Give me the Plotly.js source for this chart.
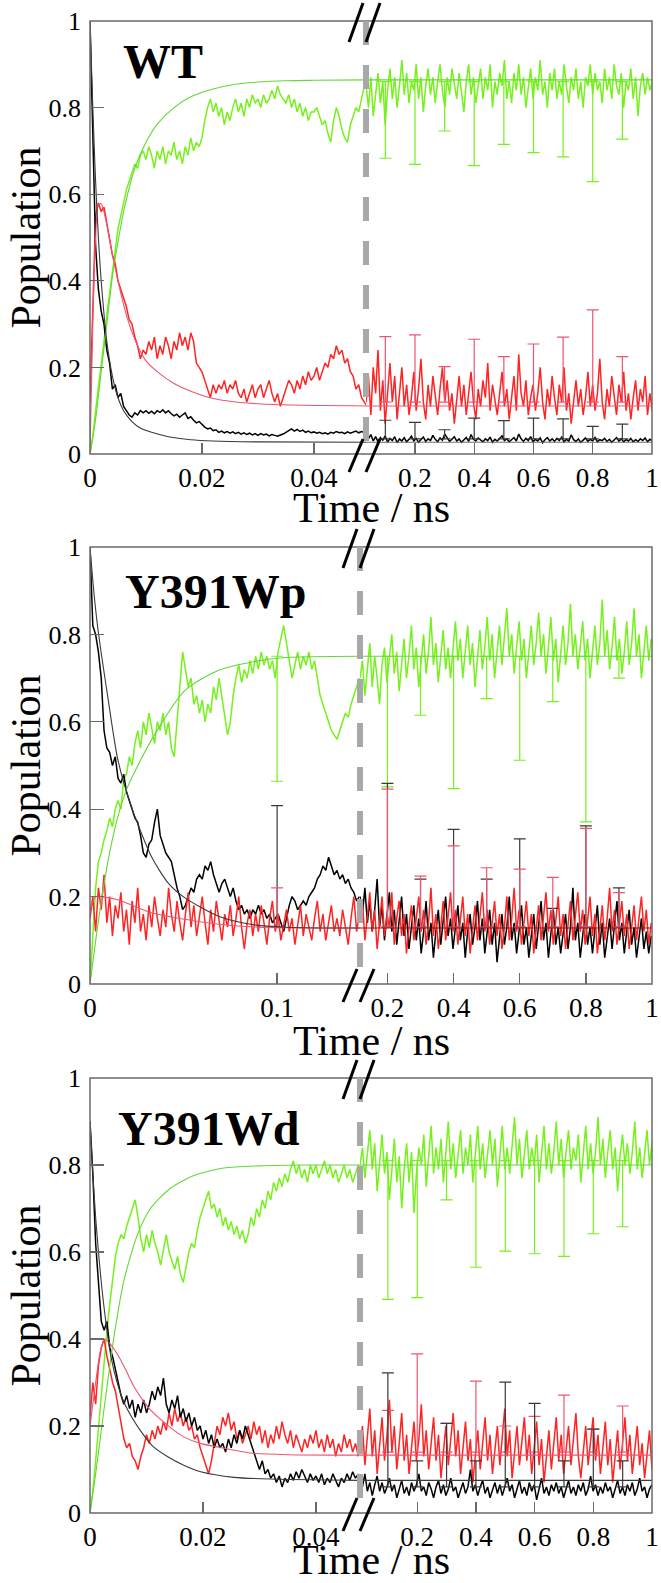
<!DOCTYPE html>
<html><head><meta charset="utf-8">
<script src="https://cdn.plot.ly/plotly-3.0.1.min.js"></script>
<style>html,body{margin:0;padding:0;background:#fff}#chart{width:661px;height:1583px}
#chart svg text{font-family:'Liberation Serif',serif !important;}</style>
</head><body><div id="chart"></div>
<script>
// ================= DATA =================
const panelLabels = ['WT', 'Y391Wp', 'Y391Wd'];
const yTickVals = [0, 0.2, 0.4, 0.6, 0.8, 1];
const yTickText = ['0', '0.2', '0.4', '0.6', '0.8', '1'];
const shortLeftTicks = [0, 0.02, 0.04];
const shortLeftText = ['0', '0.02', '0.04'];
const wpLeftTicks = [0, 0.1];
const wpLeftText = ['0', '0.1'];
const rightTicks = [0.2, 0.4, 0.6, 0.8, 1];
const rightText = ['0.2', '0.4', '0.6', '0.8', '1'];

// axis ranges (ns) of the two segments of each panel
const wtLeftRange = [0, 0.0493], wtRightRange = [0.0347, 1];
const wpLeftRange = [0, 0.1443], wpRightRange = [0.117, 1];
const wdLeftRange = [0, 0.0478], wdRightRange = [0.005, 1];

// sampling of the trajectories (start, step in ns)
const wtLeftT0 = 0, wtLeftDt = 0.0005, wtRightT0 = 0.035, wtRightDt = 0.00805;
const wpLeftT0 = 0, wpLeftDt = 0.0015, wpRightT0 = 0.117, wpRightDt = 0.0074;
const wdLeftT0 = 0, wdLeftDt = 0.0005, wdRightT0 = 0.005, wdRightDt = 0.00836;

// ---- WT ----
const wtBlackLeft = [1.0,0.72,0.48,0.38,0.33,0.3,0.24,0.21,0.15,0.16,
 0.13,0.14,0.11,0.1,0.09,0.085,0.095,0.09,0.1,0.095,
 0.1,0.094,0.099,0.093,0.1,0.096,0.102,0.095,0.1,0.093,
 0.088,0.092,0.085,0.09,0.095,0.082,0.086,0.078,0.072,0.075,
 0.068,0.062,0.058,0.06,0.054,0.056,0.05,0.053,0.049,0.052,
 0.048,0.051,0.047,0.05,0.046,0.049,0.045,0.048,0.044,0.047,
 0.043,0.047,0.044,0.046,0.042,0.045,0.043,0.041,0.044,0.046,
 0.05,0.055,0.058,0.053,0.057,0.052,0.055,0.05,0.053,0.049,
 0.051,0.048,0.05,0.047,0.049,0.046,0.05,0.048,0.052,0.049,
 0.05,0.047,0.051,0.048,0.05,0.053,0.049,0.052,0.05,0.054];
const wtRedLeft = [0.12,0.35,0.55,0.58,0.56,0.57,0.53,0.5,0.46,0.44,
 0.4,0.38,0.36,0.34,0.31,0.3,0.27,0.25,0.22,0.24,
 0.23,0.26,0.24,0.27,0.22,0.25,0.23,0.27,0.25,0.22,
 0.26,0.24,0.28,0.25,0.27,0.24,0.28,0.26,0.21,0.2,
 0.19,0.17,0.15,0.13,0.16,0.14,0.16,0.15,0.17,0.14,
 0.16,0.15,0.17,0.14,0.13,0.15,0.12,0.14,0.16,0.13,
 0.15,0.16,0.13,0.15,0.17,0.14,0.12,0.14,0.11,0.13,
 0.15,0.17,0.16,0.14,0.17,0.15,0.18,0.16,0.19,0.17,
 0.18,0.2,0.17,0.19,0.21,0.2,0.23,0.22,0.25,0.23,
 0.24,0.21,0.22,0.19,0.18,0.15,0.16,0.13,0.12,0.11];
const wtGreenLeft = [0,0.04,0.1,0.15,0.2,0.26,0.32,0.37,0.42,0.47,
 0.52,0.55,0.58,0.61,0.63,0.65,0.67,0.66,0.69,0.7,
 0.68,0.71,0.69,0.66,0.7,0.68,0.71,0.67,0.7,0.69,
 0.72,0.68,0.7,0.67,0.71,0.69,0.73,0.7,0.72,0.71,
 0.73,0.77,0.8,0.82,0.79,0.81,0.78,0.8,0.76,0.79,
 0.77,0.8,0.82,0.79,0.81,0.78,0.82,0.8,0.83,0.81,
 0.82,0.8,0.83,0.81,0.82,0.84,0.82,0.85,0.83,0.82,
 0.81,0.83,0.8,0.82,0.79,0.81,0.78,0.8,0.77,0.79,
 0.79,0.8,0.78,0.76,0.77,0.74,0.72,0.77,0.8,0.78,
 0.75,0.73,0.72,0.76,0.78,0.8,0.79,0.82,0.85,0.86];
const wtGreenRight = [0.85,0.8,0.87,0.78,0.83,0.88,0.81,0.86,0.76,0.84,
 0.89,0.82,0.87,0.8,0.85,0.91,0.83,0.88,0.81,0.86,
 0.84,0.9,0.82,0.87,0.79,0.85,0.89,0.83,0.87,0.81,
 0.86,0.9,0.84,0.8,0.87,0.83,0.89,0.85,0.82,0.88,
 0.84,0.79,0.86,0.9,0.83,0.87,0.81,0.85,0.89,0.82,
 0.87,0.84,0.9,0.8,0.86,0.83,0.88,0.85,0.91,0.82,
 0.86,0.81,0.88,0.84,0.9,0.83,0.87,0.8,0.85,0.89,
 0.82,0.87,0.84,0.91,0.83,0.86,0.8,0.88,0.84,0.89,
 0.82,0.86,0.83,0.9,0.85,0.81,0.87,0.84,0.89,0.82,
 0.86,0.8,0.87,0.85,0.9,0.83,0.88,0.84,0.86,0.81,
 0.89,0.84,0.87,0.82,0.9,0.85,0.83,0.88,0.8,0.86,
 0.84,0.89,0.82,0.87,0.78,0.85,0.88,0.83,0.87,0.84,0.86];
const wtRedRight = [0.12,0.18,0.09,0.2,0.14,0.24,0.1,0.17,0.07,0.15,
 0.21,0.12,0.18,0.08,0.14,0.2,0.11,0.16,0.09,0.13,
 0.19,0.1,0.15,0.22,0.12,0.08,0.16,0.11,0.18,0.13,
 0.09,0.15,0.2,0.12,0.17,0.1,0.14,0.07,0.12,0.18,
 0.11,0.16,0.09,0.14,0.19,0.12,0.08,0.15,0.11,0.17,
 0.13,0.21,0.1,0.16,0.12,0.09,0.14,0.19,0.11,0.15,
 0.08,0.13,0.18,0.1,0.23,0.14,0.11,0.17,0.09,0.13,
 0.16,0.1,0.14,0.2,0.12,0.08,0.15,0.11,0.18,0.13,
 0.09,0.16,0.12,0.2,0.1,0.14,0.07,0.12,0.17,0.11,
 0.15,0.09,0.13,0.19,0.11,0.16,0.1,0.14,0.22,0.12,
 0.08,0.15,0.11,0.18,0.13,0.09,0.16,0.12,0.19,0.1,
 0.14,0.08,0.13,0.17,0.1,0.15,0.12,0.18,0.09,0.14,0.1];
const wtBlackRight = [0.05,0.035,0.045,0.03,0.04,0.028,0.038,0.032,0.042,0.027,
 0.036,0.031,0.04,0.026,0.035,0.03,0.038,0.028,0.034,0.041,
 0.03,0.036,0.027,0.033,0.039,0.029,0.035,0.031,0.043,0.034,
 0.028,0.037,0.032,0.046,0.036,0.029,0.034,0.04,0.03,0.035,
 0.027,0.033,0.038,0.029,0.045,0.034,0.03,0.037,0.032,0.028,
 0.035,0.031,0.039,0.027,0.034,0.03,0.036,0.042,0.031,0.035,
 0.028,0.033,0.038,0.03,0.046,0.035,0.029,0.036,0.031,0.04,
 0.028,0.034,0.03,0.037,0.026,0.033,0.038,0.03,0.035,0.029,
 0.036,0.031,0.039,0.028,0.034,0.03,0.044,0.033,0.029,0.035,
 0.027,0.032,0.037,0.029,0.034,0.03,0.038,0.028,0.033,0.031,
 0.036,0.029,0.034,0.027,0.032,0.038,0.03,0.035,0.028,0.033,
 0.03,0.036,0.028,0.033,0.029,0.035,0.031,0.037,0.028,0.034,0.03];
const wtGreenFitT = [0,0.001,0.002,0.003,0.004,0.005,0.006,0.008,0.01,0.012,0.015,0.018,0.022,0.026,0.03,0.035,0.04,0.0495];
const wtGreenFit  = [0,0.08,0.19,0.3,0.41,0.49,0.56,0.66,0.72,0.762,0.8,0.825,0.843,0.854,0.859,0.862,0.863,0.864];
const wtRedFitT = [0,0.0005,0.001,0.0015,0.002,0.003,0.004,0.005,0.006,0.007,0.0085,0.01,0.0125,0.015,0.018,0.022,0.026,0.03,0.036,0.0495];
const wtRedFit  = [0,0.3,0.5,0.575,0.578,0.53,0.46,0.4,0.345,0.3,0.25,0.215,0.185,0.163,0.145,0.128,0.12,0.116,0.113,0.111];
const wtBlackFitT = [0,0.0005,0.001,0.0015,0.002,0.003,0.004,0.005,0.006,0.0075,0.009,0.011,0.014,0.018,0.022,0.03,0.0495];
const wtBlackFit  = [1.0,0.8,0.63,0.5,0.4,0.26,0.18,0.13,0.1,0.075,0.06,0.05,0.04,0.033,0.03,0.028,0.027];
const wtPlateau = {green: 0.864, red: 0.111, black: 0.027};
const wtErrX = [0.1,0.2,0.3,0.4,0.5,0.6,0.7,0.8,0.9];
const wtGreenErrLow  = [0.683,0.669,0.746,0.666,0.715,0.696,0.686,0.629,0.727];
const wtRedErrHigh   = [0.271,0.275,0.202,0.265,0.225,0.254,0.27,0.333,0.225];
const wtBlackErrHigh = [0.078,0.073,0.056,0.083,0.077,0.083,0.081,0.064,0.069];
const wtErrBase = {green: 0.86, red: 0.12, black: 0.035};

// ---- Y391Wp ----
const wpBlackLeft = [1.0,0.82,0.8,0.76,0.7,0.58,0.54,0.53,0.5,0.52,
 0.47,0.46,0.48,0.44,0.42,0.4,0.38,0.37,0.34,0.3,
 0.29,0.32,0.33,0.37,0.4,0.34,0.32,0.3,0.29,0.28,
 0.25,0.22,0.2,0.17,0.18,0.2,0.22,0.21,0.24,0.25,
 0.24,0.27,0.26,0.28,0.25,0.23,0.21,0.23,0.24,0.22,
 0.2,0.22,0.19,0.17,0.18,0.16,0.17,0.15,0.17,0.16,
 0.18,0.16,0.17,0.15,0.16,0.14,0.15,0.16,0.14,0.12,
 0.15,0.18,0.2,0.19,0.17,0.18,0.19,0.18,0.2,0.21,
 0.22,0.24,0.25,0.27,0.26,0.29,0.27,0.25,0.26,0.24,
 0.25,0.23,0.24,0.22,0.21,0.19,0.2];
const wpGreenLeft = [0,0.12,0.22,0.28,0.3,0.33,0.35,0.38,0.36,0.4,
 0.42,0.4,0.47,0.48,0.52,0.5,0.55,0.58,0.54,0.6,
 0.57,0.62,0.58,0.55,0.6,0.58,0.62,0.57,0.6,0.54,
 0.52,0.6,0.68,0.76,0.72,0.68,0.7,0.64,0.66,0.62,
 0.65,0.6,0.64,0.62,0.68,0.65,0.7,0.66,0.62,0.57,
 0.6,0.66,0.7,0.73,0.69,0.72,0.7,0.74,0.71,0.75,
 0.72,0.76,0.73,0.75,0.72,0.74,0.7,0.76,0.79,0.82,
 0.78,0.74,0.7,0.73,0.76,0.72,0.75,0.73,0.76,0.72,
 0.74,0.7,0.66,0.64,0.62,0.6,0.58,0.57,0.56,0.58,
 0.6,0.62,0.61,0.64,0.66,0.68,0.7];
const wpRedLeft = [0.15,0.2,0.12,0.22,0.17,0.25,0.14,0.2,0.11,0.18,
 0.15,0.21,0.12,0.17,0.09,0.19,0.14,0.22,0.12,0.16,
 0.1,0.18,0.13,0.2,0.15,0.11,0.17,0.13,0.22,0.16,
 0.12,0.19,0.14,0.1,0.16,0.21,0.13,0.18,0.11,0.15,
 0.2,0.14,0.09,0.17,0.12,0.19,0.15,0.1,0.16,0.13,
 0.18,0.11,0.15,0.2,0.13,0.08,0.14,0.17,0.11,0.16,
 0.12,0.18,0.14,0.09,0.15,0.19,0.12,0.16,0.1,0.14,
 0.17,0.12,0.15,0.09,0.13,0.18,0.11,0.16,0.13,0.1,
 0.15,0.19,0.12,0.16,0.1,0.14,0.18,0.12,0.15,0.11,
 0.17,0.13,0.09,0.15,0.2,0.12,0.16];
const wpGreenRight = [0.7,0.74,0.66,0.72,0.78,0.68,0.75,0.7,0.64,0.73,
 0.77,0.69,0.74,0.8,0.71,0.76,0.67,0.73,0.79,0.7,
 0.75,0.82,0.72,0.77,0.68,0.74,0.8,0.71,0.76,0.84,
 0.73,0.78,0.69,0.75,0.81,0.72,0.77,0.7,0.76,0.83,
 0.74,0.79,0.7,0.76,0.82,0.73,0.78,0.68,0.75,0.81,
 0.72,0.77,0.84,0.74,0.8,0.7,0.76,0.82,0.73,0.79,
 0.86,0.75,0.8,0.71,0.77,0.83,0.74,0.79,0.7,0.76,
 0.82,0.73,0.78,0.85,0.75,0.8,0.71,0.77,0.84,0.74,
 0.79,0.69,0.76,0.82,0.73,0.78,0.87,0.75,0.8,0.72,
 0.77,0.83,0.74,0.79,0.7,0.76,0.82,0.73,0.78,0.88,
 0.75,0.81,0.72,0.77,0.84,0.74,0.79,0.71,0.76,0.83,
 0.73,0.78,0.86,0.75,0.8,0.7,0.76,0.82,0.74,0.79];
const wpBlackRight = [0.2,0.16,0.22,0.14,0.19,0.12,0.17,0.24,0.13,0.18,
 0.1,0.15,0.21,0.12,0.17,0.09,0.14,0.2,0.11,0.16,
 0.08,0.13,0.18,0.1,0.15,0.07,0.12,0.19,0.1,0.14,
 0.06,0.12,0.17,0.09,0.14,0.2,0.11,0.15,0.08,0.13,
 0.18,0.1,0.14,0.06,0.12,0.16,0.09,0.13,0.19,0.1,
 0.15,0.07,0.12,0.17,0.09,0.14,0.05,0.11,0.16,0.09,
 0.13,0.2,0.1,0.14,0.07,0.12,0.18,0.09,0.13,0.06,
 0.11,0.16,0.08,0.13,0.19,0.1,0.14,0.06,0.12,0.17,
 0.09,0.13,0.07,0.11,0.16,0.08,0.13,0.22,0.1,0.14,
 0.06,0.11,0.16,0.09,0.13,0.07,0.12,0.18,0.09,0.14,
 0.06,0.11,0.15,0.08,0.13,0.19,0.1,0.14,0.07,0.12,
 0.17,0.09,0.13,0.06,0.11,0.15,0.08,0.12,0.07,0.11];
const wpRedRight = [0.14,0.19,0.1,0.16,0.21,0.12,0.17,0.08,0.14,0.2,
 0.11,0.16,0.13,0.21,0.09,0.15,0.19,0.11,0.16,0.07,
 0.13,0.18,0.1,0.15,0.2,0.12,0.17,0.09,0.14,0.22,
 0.11,0.16,0.08,0.13,0.19,0.1,0.15,0.21,0.12,0.17,
 0.09,0.14,0.2,0.11,0.16,0.07,0.13,0.18,0.1,0.15,
 0.21,0.12,0.17,0.09,0.14,0.19,0.11,0.16,0.08,0.13,
 0.2,0.1,0.15,0.22,0.12,0.17,0.09,0.14,0.19,0.11,
 0.16,0.07,0.13,0.18,0.1,0.15,0.21,0.12,0.17,0.09,
 0.14,0.2,0.11,0.16,0.08,0.13,0.19,0.1,0.15,0.21,
 0.12,0.17,0.09,0.14,0.2,0.11,0.16,0.07,0.13,0.18,
 0.1,0.15,0.22,0.12,0.17,0.09,0.14,0.19,0.11,0.16,
 0.08,0.13,0.18,0.1,0.15,0.2,0.12,0.17,0.09,0.14];
const wpBlackFitT = [0,0.002,0.0041,0.0095,0.0149,0.0221,0.0328,0.0418,0.0508,0.0687,0.0866,0.1045,0.1443];
const wpBlackFit  = [1.0,0.9,0.817,0.657,0.513,0.406,0.292,0.231,0.197,0.155,0.136,0.13,0.128];
const wpGreenFitT = [0,0.005,0.01,0.0149,0.02,0.0328,0.0508,0.0687,0.0866,0.1045,0.1443];
const wpGreenFit  = [0,0.16,0.29,0.383,0.45,0.558,0.672,0.718,0.737,0.747,0.75];
const wpRedFitT = [0,0.003,0.006,0.0149,0.0328,0.0508,0.07,0.09,0.1443];
const wpRedFit  = [0.17,0.2,0.2,0.193,0.163,0.148,0.136,0.13,0.128];
const wpPlateau = {green: 0.75, red: 0.128, black: 0.128};
const wpErrXLeft = [0.1];
const wpGreenErrLowLeft = [0.464], wpRedErrHighLeft = [0.22], wpBlackErrHighLeft = [0.408];
const wpErrXRight = [0.2,0.3,0.4,0.5,0.6,0.7,0.8,0.9];
const wpGreenErrLow  = [0.451,0.615,0.447,0.653,0.512,0.646,0.371,0.70];
const wpRedErrHigh   = [0.446,0.247,0.316,0.266,0.263,0.244,0.356,0.209];
const wpBlackErrHigh = [0.459,0.24,0.354,0.24,0.332,0.173,0.362,0.22];
const wpErrBase = {green: 0.75, red: 0.13, black: 0.13};

// ---- Y391Wd ----
const wdBlackLeft = [0.9,0.78,0.62,0.53,0.44,0.42,0.44,0.38,0.36,0.33,
 0.3,0.27,0.25,0.27,0.24,0.26,0.22,0.25,0.23,0.26,
 0.23,0.25,0.28,0.26,0.29,0.27,0.31,0.25,0.23,0.26,
 0.24,0.27,0.22,0.24,0.21,0.23,0.2,0.22,0.19,0.2,
 0.17,0.19,0.16,0.18,0.15,0.17,0.15,0.16,0.14,0.17,
 0.15,0.18,0.16,0.19,0.17,0.2,0.18,0.16,0.14,0.12,
 0.1,0.12,0.09,0.1,0.08,0.09,0.07,0.085,0.06,0.08,
 0.07,0.09,0.075,0.095,0.08,0.1,0.085,0.07,0.09,0.075,
 0.085,0.07,0.09,0.065,0.08,0.07,0.09,0.075,0.06,0.08,
 0.07,0.09,0.075,0.095,0.08,0.09];
const wdRedLeft = [0.22,0.3,0.25,0.34,0.38,0.4,0.36,0.33,0.3,0.28,
 0.24,0.2,0.17,0.15,0.16,0.13,0.12,0.1,0.13,0.15,
 0.18,0.16,0.19,0.17,0.2,0.18,0.21,0.19,0.23,0.2,
 0.24,0.21,0.23,0.2,0.22,0.19,0.2,0.17,0.18,0.15,
 0.13,0.11,0.09,0.12,0.16,0.2,0.18,0.22,0.2,0.23,
 0.19,0.21,0.17,0.19,0.16,0.18,0.2,0.17,0.21,0.18,
 0.2,0.16,0.19,0.15,0.18,0.16,0.2,0.17,0.21,0.18,
 0.16,0.19,0.15,0.18,0.16,0.14,0.17,0.15,0.18,0.16,
 0.19,0.15,0.17,0.14,0.18,0.15,0.17,0.13,0.16,0.14,
 0.18,0.15,0.17,0.14,0.16,0.13];
const wdGreenLeft = [0,0.05,0.12,0.2,0.28,0.35,0.42,0.48,0.54,0.59,
 0.62,0.64,0.63,0.66,0.68,0.7,0.72,0.68,0.63,0.6,
 0.64,0.61,0.65,0.62,0.6,0.57,0.61,0.64,0.6,0.58,
 0.56,0.59,0.55,0.53,0.57,0.6,0.62,0.61,0.65,0.68,
 0.7,0.72,0.74,0.7,0.71,0.68,0.7,0.66,0.68,0.65,
 0.67,0.64,0.66,0.63,0.65,0.62,0.64,0.68,0.66,0.7,
 0.68,0.72,0.7,0.74,0.72,0.76,0.74,0.77,0.75,0.78,
 0.76,0.79,0.81,0.78,0.8,0.77,0.79,0.76,0.8,0.78,
 0.8,0.77,0.79,0.81,0.78,0.8,0.77,0.79,0.76,0.78,
 0.8,0.77,0.79,0.76,0.78,0.8];
const wdGreenRight = [0.8,0.84,0.77,0.82,0.88,0.79,0.85,0.74,0.81,0.87,
 0.78,0.83,0.72,0.8,0.86,0.76,0.82,0.7,0.79,0.85,
 0.76,0.83,0.69,0.78,0.84,0.8,0.87,0.75,0.82,0.89,
 0.78,0.84,0.79,0.86,0.76,0.83,0.9,0.79,0.85,0.77,
 0.82,0.88,0.78,0.84,0.8,0.87,0.76,0.83,0.89,0.79,
 0.85,0.77,0.82,0.88,0.8,0.86,0.75,0.83,0.89,0.79,
 0.84,0.78,0.85,0.91,0.8,0.86,0.77,0.83,0.88,0.79,
 0.84,0.8,0.87,0.76,0.82,0.89,0.79,0.85,0.78,0.83,
 0.9,0.8,0.86,0.77,0.83,0.88,0.79,0.84,0.81,0.87,
 0.76,0.82,0.89,0.79,0.85,0.78,0.83,0.91,0.8,0.86,
 0.77,0.83,0.88,0.79,0.84,0.74,0.82,0.87,0.8,0.85,
 0.78,0.83,0.9,0.79,0.84,0.77,0.82,0.88,0.8,0.85];
const wdRedRight = [0.15,0.2,0.11,0.17,0.24,0.13,0.19,0.09,0.15,0.22,
 0.12,0.18,0.26,0.14,0.2,0.1,0.16,0.23,0.12,0.18,
 0.09,0.15,0.21,0.12,0.17,0.25,0.13,0.19,0.1,0.16,
 0.22,0.12,0.18,0.08,0.14,0.2,0.11,0.17,0.23,0.13,
 0.19,0.09,0.15,0.21,0.12,0.17,0.07,0.13,0.19,0.1,
 0.16,0.22,0.12,0.18,0.09,0.14,0.2,0.11,0.17,0.24,
 0.13,0.19,0.08,0.14,0.2,0.11,0.16,0.22,0.12,0.18,
 0.09,0.15,0.21,0.11,0.17,0.07,0.13,0.19,0.1,0.16,
 0.22,0.12,0.18,0.09,0.14,0.2,0.11,0.17,0.23,0.13,
 0.08,0.14,0.2,0.11,0.16,0.22,0.12,0.18,0.09,0.15,
 0.21,0.11,0.17,0.07,0.13,0.19,0.1,0.16,0.22,0.12,
 0.18,0.09,0.14,0.2,0.11,0.16,0.08,0.13,0.19,0.1];
const wdBlackRight = [0.08,0.06,0.09,0.05,0.07,0.04,0.065,0.085,0.05,0.07,
 0.045,0.06,0.08,0.05,0.065,0.035,0.055,0.075,0.045,0.06,
 0.04,0.07,0.05,0.065,0.09,0.05,0.06,0.04,0.07,0.055,
 0.035,0.06,0.075,0.045,0.065,0.04,0.055,0.08,0.05,0.06,
 0.035,0.055,0.07,0.045,0.06,0.1,0.05,0.065,0.04,0.06,
 0.075,0.045,0.06,0.035,0.055,0.07,0.045,0.065,0.04,0.06,
 0.08,0.05,0.065,0.035,0.055,0.075,0.045,0.06,0.04,0.07,
 0.05,0.065,0.03,0.055,0.08,0.045,0.06,0.04,0.065,0.05,
 0.07,0.045,0.06,0.035,0.055,0.075,0.045,0.06,0.04,0.065,
 0.05,0.07,0.04,0.055,0.085,0.05,0.065,0.04,0.06,0.045,
 0.07,0.05,0.06,0.035,0.055,0.075,0.045,0.06,0.04,0.065,
 0.05,0.07,0.04,0.055,0.08,0.05,0.06,0.035,0.055,0.065];
const wdGreenFitT = [0,0.001,0.002,0.003,0.0043,0.006,0.0084,0.0107,0.0143,0.0184,0.0237,0.03,0.038,0.0478];
const wdGreenFit  = [0,0.09,0.19,0.29,0.41,0.534,0.64,0.7,0.747,0.776,0.793,0.798,0.8,0.8];
const wdRedFitT = [0,0.001,0.0018,0.0026,0.0035,0.0048,0.0063,0.0078,0.0093,0.0107,0.0137,0.0166,0.0195,0.0225,0.0284,0.035,0.0478];
const wdRedFit  = [0.2,0.3,0.37,0.4,0.39,0.366,0.33,0.29,0.26,0.237,0.202,0.175,0.16,0.152,0.138,0.134,0.133];
const wdBlackFitT = [0,0.0005,0.001,0.0015,0.002,0.0028,0.0037,0.0048,0.006,0.0074,0.0089,0.011,0.0137,0.0166,0.0196,0.0255,0.032,0.0478];
const wdBlackFit  = [0.9,0.78,0.68,0.6,0.53,0.44,0.36,0.3,0.255,0.22,0.19,0.155,0.13,0.11,0.095,0.082,0.078,0.075];
const wdPlateau = {green: 0.8, red: 0.133, black: 0.075};
const wdErrX = [0.1,0.2,0.3,0.4,0.5,0.6,0.7,0.8,0.9];
const wdGreenErrLow  = [0.491,0.495,0.72,0.565,0.602,0.596,0.59,0.642,0.658];
const wdRedErrHigh   = [0.236,0.366,0.206,0.303,0.2,0.222,0.271,0.193,0.246];
const wdBlackErrHigh = [0.322,0.12,0.206,0.12,0.301,0.252,0.12,0.193,0.12];
const wdErrBase = {green: 0.81, red: 0.14, black: 0.06};

// ================= STYLE =================
const C = {
  green: '#76f11c', red: '#ff2424', black: '#000000',
  greenFit: '#62d835', redFit: '#ee5570', blackFit: '#3a3a3a',
  frame: '#6a6a6a', dash: '#a8a8a8'
};
const FONT = 'Liberation Serif';

// pixel geometry of the panels (page px)
const PL = 90, PR = 652, PT = 21, PB = 1513, W = 661, H = 1583;
const geo = [
  {top: 21, bottom: 454, brk: 366, titleOff: 54},
  {top: 547, bottom: 984, brk: 360, titleOff: 57},
  {top: 1078, bottom: 1513, brk: 360, titleOff: 47}
];
const fx = x => (x - PL) / (PR - PL);
const fy = y => (PB - y) / (PB - PT);

// ================= TRACES =================
const traces = [];
function noisy(xa, ya, vals, x0, dx, color) {
  traces.push({type: 'scatter', mode: 'lines', xaxis: xa, yaxis: ya, x0: x0, dx: dx, y: vals,
    line: {color: color, width: 1.5}, hoverinfo: 'skip'});
}
function fit(xa, ya, xs, ys, color) {
  traces.push({type: 'scatter', mode: 'lines', xaxis: xa, yaxis: ya, x: xs, y: ys,
    line: {color: color, width: 1.1, shape: 'spline', smoothing: 0.7}, hoverinfo: 'skip'});
}
function plateau(xa, ya, range, v, color) {
  traces.push({type: 'scatter', mode: 'lines', xaxis: xa, yaxis: ya, x: [range[0], range[1]], y: [v, v],
    line: {color: color, width: 1.1}, hoverinfo: 'skip'});
}
function errs(xa, ya, xs, base, bounds, up, color) {
  const plus = bounds.map(b => up ? b - base : 0);
  const minus = bounds.map(b => up ? 0 : base - b);
  traces.push({type: 'scatter', mode: 'markers', xaxis: xa, yaxis: ya, x: xs, y: xs.map(() => base),
    marker: {size: 2, opacity: 0, color: color},
    error_y: {type: 'data', symmetric: false, array: plus, arrayminus: minus, color: color, thickness: 1.2, width: 6},
    hoverinfo: 'skip'});
}

// WT (x, x2 / y)
noisy('x', 'y', wtGreenLeft, wtLeftT0, wtLeftDt, C.green);
noisy('x', 'y', wtRedLeft, wtLeftT0, wtLeftDt, C.red);
noisy('x', 'y', wtBlackLeft, wtLeftT0, wtLeftDt, C.black);
noisy('x2', 'y', wtGreenRight, wtRightT0, wtRightDt, C.green);
noisy('x2', 'y', wtRedRight, wtRightT0, wtRightDt, C.red);
noisy('x2', 'y', wtBlackRight, wtRightT0, wtRightDt, C.black);
errs('x2', 'y', wtErrX, wtErrBase.green, wtGreenErrLow, false, C.green);
errs('x2', 'y', wtErrX, wtErrBase.red, wtRedErrHigh, true, C.redFit);
errs('x2', 'y', wtErrX, wtErrBase.black, wtBlackErrHigh, true, C.blackFit);
fit('x', 'y', wtGreenFitT, wtGreenFit, C.greenFit);
fit('x', 'y', wtRedFitT, wtRedFit, C.redFit);
fit('x', 'y', wtBlackFitT, wtBlackFit, C.blackFit);
plateau('x2', 'y', wtRightRange, wtPlateau.green, C.greenFit);
plateau('x2', 'y', wtRightRange, wtPlateau.red, C.redFit);
plateau('x2', 'y', wtRightRange, wtPlateau.black, '#707070');

// Y391Wp (x3, x4 / y2)
noisy('x3', 'y2', wpGreenLeft, wpLeftT0, wpLeftDt, C.green);
noisy('x3', 'y2', wpBlackLeft, wpLeftT0, wpLeftDt, C.black);
noisy('x3', 'y2', wpRedLeft, wpLeftT0, wpLeftDt, C.red);
noisy('x4', 'y2', wpGreenRight, wpRightT0, wpRightDt, C.green);
noisy('x4', 'y2', wpBlackRight, wpRightT0, wpRightDt, C.black);
noisy('x4', 'y2', wpRedRight, wpRightT0, wpRightDt, C.red);
errs('x3', 'y2', wpErrXLeft, wpErrBase.green, wpGreenErrLowLeft, false, C.green);
errs('x3', 'y2', wpErrXLeft, wpErrBase.black, wpBlackErrHighLeft, true, C.blackFit);
errs('x3', 'y2', wpErrXLeft, wpErrBase.red, wpRedErrHighLeft, true, C.redFit);
errs('x4', 'y2', wpErrXRight, wpErrBase.green, wpGreenErrLow, false, C.green);
errs('x4', 'y2', wpErrXRight, wpErrBase.black, wpBlackErrHigh, true, C.blackFit);
errs('x4', 'y2', wpErrXRight, wpErrBase.red, wpRedErrHigh, true, C.redFit);
fit('x3', 'y2', wpGreenFitT, wpGreenFit, C.greenFit);
fit('x3', 'y2', wpRedFitT, wpRedFit, C.redFit);
fit('x3', 'y2', wpBlackFitT, wpBlackFit, C.blackFit);
plateau('x4', 'y2', wpRightRange, wpPlateau.green, C.greenFit);
plateau('x4', 'y2', wpRightRange, wpPlateau.red, '#8a1010');

// Y391Wd (x5, x6 / y3)
noisy('x5', 'y3', wdGreenLeft, wdLeftT0, wdLeftDt, C.green);
noisy('x5', 'y3', wdRedLeft, wdLeftT0, wdLeftDt, C.red);
noisy('x5', 'y3', wdBlackLeft, wdLeftT0, wdLeftDt, C.black);
noisy('x6', 'y3', wdGreenRight, wdRightT0, wdRightDt, C.green);
noisy('x6', 'y3', wdRedRight, wdRightT0, wdRightDt, C.red);
noisy('x6', 'y3', wdBlackRight, wdRightT0, wdRightDt, C.black);
errs('x6', 'y3', wdErrX, wdErrBase.green, wdGreenErrLow, false, C.green);
errs('x6', 'y3', wdErrX, wdErrBase.red, wdRedErrHigh, true, C.redFit);
errs('x6', 'y3', wdErrX, wdErrBase.black, wdBlackErrHigh, true, C.blackFit);
fit('x5', 'y3', wdGreenFitT, wdGreenFit, C.greenFit);
fit('x5', 'y3', wdRedFitT, wdRedFit, C.redFit);
fit('x5', 'y3', wdBlackFitT, wdBlackFit, C.blackFit);
plateau('x6', 'y3', wdRightRange, wdPlateau.green, C.greenFit);
plateau('x6', 'y3', wdRightRange, wdPlateau.red, C.redFit);
plateau('x6', 'y3', wdRightRange, wdPlateau.black, C.blackFit);

// ================= LAYOUT =================
function xAxis(domain, range, tv, tt, anchor) {
  return {domain: domain, range: range, anchor: anchor, tickmode: 'array', tickvals: tv, ticktext: tt,
    ticks: 'inside', ticklen: 11, tickwidth: 1.4, tickcolor: C.frame, showline: false, showgrid: false,
    zeroline: false, ticklabelstandoff: 5, tickfont: {family: FONT, size: 27, color: '#000'}, fixedrange: true};
}
function yAxis(domain, anchor) {
  return {domain: domain, range: [0, 1], anchor: anchor, tickmode: 'array', tickvals: yTickVals, ticktext: yTickText,
    ticks: 'inside', ticklen: 14, tickwidth: 1.4, tickcolor: C.frame, showline: false, showgrid: false,
    zeroline: false, ticklabelstandoff: 8, tickfont: {family: FONT, size: 26, color: '#000'}, fixedrange: true};
}
const d = geo.map(g => [fy(g.bottom), fy(g.top)]);
const b = geo.map(g => fx(g.brk));

const layout = {
  width: W, height: H, paper_bgcolor: '#fff', plot_bgcolor: 'rgba(0,0,0,0)', showlegend: false,
  margin: {l: PL, r: W - PR, t: PT, b: H - PB, pad: 0},
  font: {family: FONT, color: '#000'},
  xaxis:  xAxis([0, b[0]], wtLeftRange, shortLeftTicks, shortLeftText, 'y'),
  xaxis2: xAxis([b[0], 1], wtRightRange, rightTicks, rightText, 'y'),
  yaxis:  yAxis(d[0], 'x'),
  xaxis3: xAxis([0, b[1]], wpLeftRange, wpLeftTicks, wpLeftText, 'y2'),
  xaxis4: xAxis([b[1], 1], wpRightRange, rightTicks, rightText, 'y2'),
  yaxis2: yAxis(d[1], 'x3'),
  xaxis5: xAxis([0, b[2]], wdLeftRange, shortLeftTicks, shortLeftText, 'y3'),
  xaxis6: xAxis([b[2], 1], wdRightRange, rightTicks, rightText, 'y3'),
  yaxis3: yAxis(d[2], 'x5'),
  shapes: [], annotations: []
};

geo.forEach((g, i) => {
  // frame
  layout.shapes.push({type: 'rect', xref: 'paper', yref: 'paper', x0: 0, x1: 1, y0: fy(g.bottom), y1: fy(g.top),
    line: {color: C.frame, width: 1.5}, fillcolor: 'rgba(0,0,0,0)', layer: 'above'});
  // dashed break line
  layout.shapes.push({type: 'line', xref: 'paper', yref: 'paper', x0: fx(g.brk), x1: fx(g.brk), y0: fy(g.top), y1: fy(g.bottom),
    line: {color: C.dash, width: 6, dash: '24px,20px'}, layer: 'above'});
  // axis-break slashes (top and bottom)
  [[g.top, 21, 18], [g.bottom, 18, 15]].forEach(([f, dn, up]) => {
    [[-17, -3], [0, 14]].forEach(([a, c]) => {
      layout.shapes.push({type: 'line', xref: 'paper', yref: 'paper',
        x0: fx(g.brk + a), y0: fy(f + dn), x1: fx(g.brk + c), y1: fy(f - up),
        line: {color: '#000', width: 3}, layer: 'above'});
    });
  });
  // y title
  layout.annotations.push({text: 'Population', textangle: -90, xref: 'paper', yref: 'paper',
    x: fx(25), y: (d[i][0] + d[i][1]) / 2, xanchor: 'center', yanchor: 'middle', showarrow: false,
    font: {family: FONT, size: 42, color: '#000'}});
  // x title
  layout.annotations.push({text: 'Time / ns', xref: 'paper', yref: 'paper', x: 0.5, y: fy(g.bottom + g.titleOff),
    xanchor: 'center', yanchor: 'middle', showarrow: false, font: {family: FONT, size: 42, color: '#000'}});
});
const labelPos = [[121, 61], [123, 591], [116, 1128]];
panelLabels.forEach((t, i) => {
  layout.annotations.push({text: '<b>' + t + '</b>', xref: 'paper', yref: 'paper', x: fx(labelPos[i][0]), y: fy(labelPos[i][1]),
    xanchor: 'left', yanchor: 'middle', showarrow: false, font: {family: FONT, size: 48, color: '#000'}});
});

Plotly.newPlot('chart', traces, layout, {staticPlot: true, displayModeBar: false});
</script>
</body></html>
